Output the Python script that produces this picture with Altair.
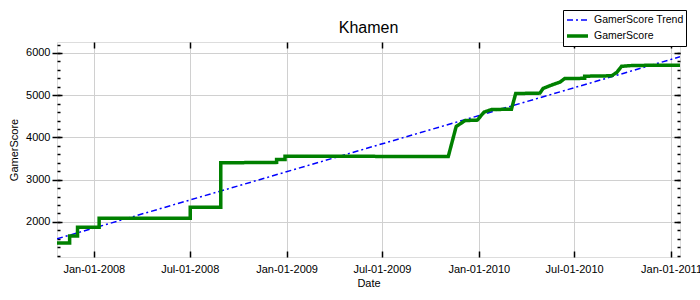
import altair as alt
import pandas as pd

# GamerScore (step-like cumulative score)
score_dates = ["2007-10-23", "2007-11-16", "2007-11-16", "2007-12-01", "2007-12-01",
               "2008-01-11", "2008-01-11", "2008-07-02", "2008-07-02", "2008-08-29",
               "2008-08-29", "2008-12-13", "2008-12-13", "2008-12-29", "2008-12-29",
               "2009-11-04", "2009-11-19", "2009-12-06", "2009-12-29", "2010-01-11",
               "2010-01-25", "2010-03-04", "2010-03-12", "2010-04-27", "2010-05-03",
               "2010-05-19", "2010-06-04", "2010-06-13", "2010-07-21", "2010-07-21",
               "2010-09-10", "2010-09-20", "2010-09-29", "2010-10-21", "2011-01-18"]
score_values = [1500, 1500, 1670, 1670, 1875,
                1875, 2090, 2090, 2350, 2350,
                3400, 3410, 3480, 3480, 3555,
                3550, 4260, 4400, 4410, 4600,
                4660, 4670, 5040, 5050, 5160,
                5240, 5310, 5395, 5400, 5450,
                5460, 5540, 5685, 5705, 5712]

# Trend line end points
trend_dates = ["2007-10-23", "2011-01-18"]
trend_values = [1600, 5910]

series_names = ["GamerScore Trend", "GamerScore"]
x_tick_dates = [(2008, 1), (2008, 7), (2009, 1), (2009, 7), (2010, 1), (2010, 7), (2011, 1)]
y_major = [2000, 3000, 4000, 5000, 6000]
y_minor = list(range(1200, 6201, 200))

df = pd.concat([
    pd.DataFrame({"Date": trend_dates, "Value": trend_values, "Series": series_names[0]}),
    pd.DataFrame({"Date": score_dates, "Value": score_values, "Series": series_names[1]}),
])

xvals = [alt.DateTime(year=y, month=m, date=1, utc=True) for y, m in x_tick_dates]


def xscale():
    return alt.Scale(type="utc", domain=[alt.DateTime(year=2007, month=10, date=23, utc=True),
                                         alt.DateTime(year=2011, month=1, date=18, utc=True)])


def yscale():
    return alt.Scale(domain=[1170, 6260], nice=False, zero=False)


FONT = "Liberation Sans"

main = alt.Chart(df).mark_line(clip=True).encode(
    x=alt.X("Date:T", scale=xscale(), title="Date",
            axis=alt.Axis(values=xvals, labelExpr="utcFormat(datum.value, '%b-%d-%Y')",
                          orient="bottom",
                          grid=True, gridColor="#d0d0d0", ticks=False, domain=False,
                          labelFont=FONT, labelFontSize=11, labelColor="#000000",
                          labelPadding=6, titleFont=FONT, titleFontSize=11,
                          titleFontWeight="normal", titleColor="#000000", titlePadding=3)),
    y=alt.Y("Value:Q", scale=yscale(), title="GamerScore",
            axis=alt.Axis(values=y_major, format="d", orient="left", grid=True, gridColor="#d0d0d0",
                          tickSize=5, tickColor="#000000", tickWidth=1.5, domain=False,
                          labelFont=FONT, labelFontSize=11, labelColor="#000000",
                          labelPadding=2, titleFont=FONT, titleFontSize=11,
                          titleFontWeight="normal", titleColor="#000000", titlePadding=6)),
    color=alt.Color("Series:N", title=None,
                    scale=alt.Scale(domain=series_names, range=["#0000ff", "#008000"]),
                    legend=alt.Legend(orient="none", legendX=506, legendY=-32,
                                      symbolType="stroke", symbolSize=441, clipHeight=16,
                                      labelFont=FONT, labelFontSize=10.5, labelColor="#000000",
                                      strokeColor="#000000", fillColor="#ffffff",
                                      padding=2, rowPadding=0, cornerRadius=0)),
    strokeDash=alt.StrokeDash("Series:N", title=None,
                              scale=alt.Scale(domain=series_names, range=[[6, 3, 2, 3], [1, 0]])),
    strokeWidth=alt.StrokeWidth("Series:N", title=None,
                                scale=alt.Scale(domain=series_names, range=[1.5, 3.5])),
)


def tick_layer(x_axis, y_axis):
    return alt.Chart(df).mark_point(opacity=0).encode(
        x=alt.X("Date:T", scale=xscale(), title=None, axis=x_axis),
        y=alt.Y("Value:Q", scale=yscale(), title=None, axis=y_axis),
    )


def inner(orient, values, size):
    return alt.Axis(orient=orient, values=values, offset=-size, tickSize=size, tickColor="#000000",
                    tickWidth=1.5, labels=False, domain=False, grid=False)


l2 = tick_layer(inner("bottom", xvals, 6), inner("left", y_major, 5))
l3 = tick_layer(inner("top", xvals, 6), inner("left", y_minor, 3))
l4 = tick_layer(None, inner("right", y_major, 6))
l5 = tick_layer(None, inner("right", y_minor, 3))

chart = alt.layer(main, l2, l3, l4, l5).resolve_scale(
    x="independent", y="independent"
).resolve_axis(x="independent", y="independent").properties(
    width=623, height=215,
    autosize=alt.AutoSizeParams(type="none"),
    padding={"left": 57, "top": 42, "right": 20, "bottom": 43},
    title=alt.TitleParams("Khamen", font=FONT, fontSize=16, fontWeight="normal",
                          color="#000000", offset=8, dy=34, anchor="middle"),
).configure_view(stroke="#000000", strokeWidth=2).configure(background="#ffffff")

chart.save("out.html", embed_options={"renderer": "svg", "actions": False})
